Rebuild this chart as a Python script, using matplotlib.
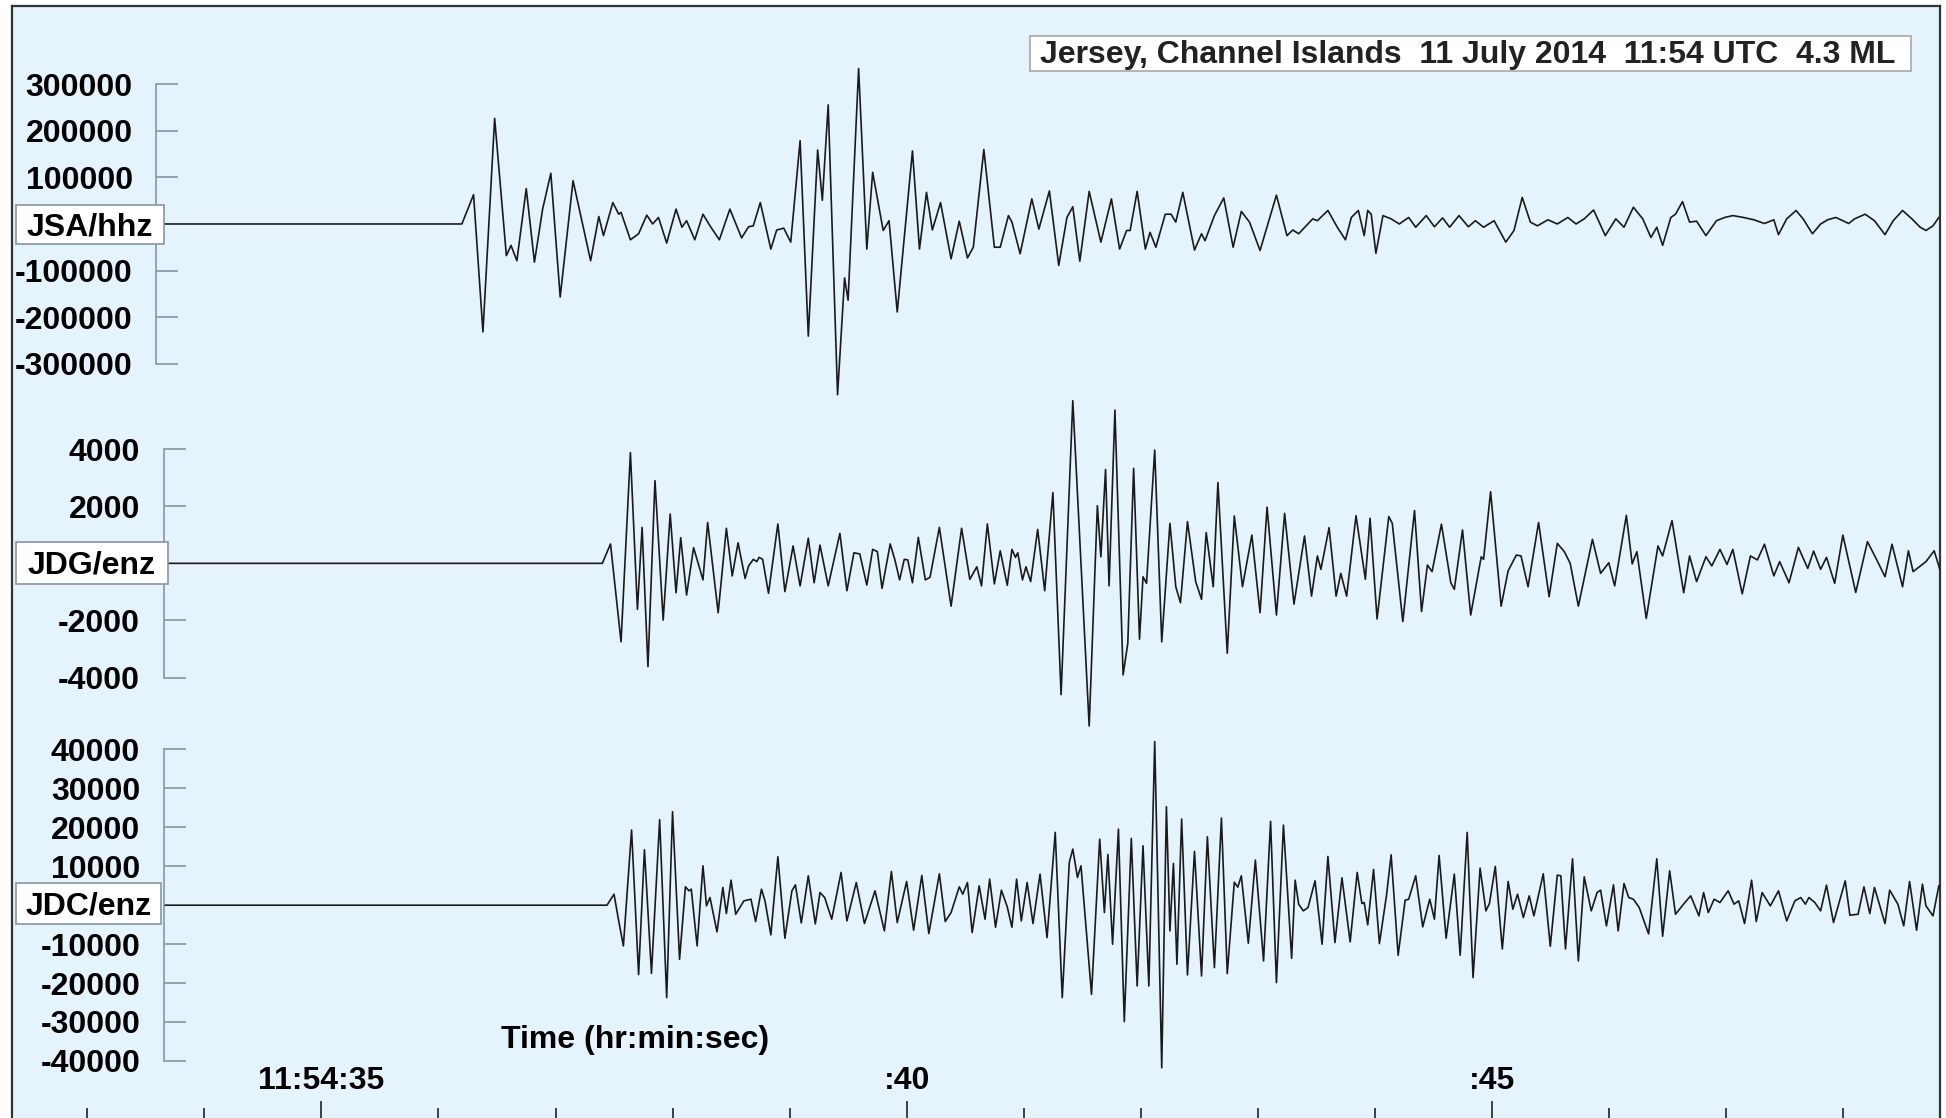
import matplotlib.pyplot as plt
from matplotlib.patches import Rectangle

plt.rcParams['font.family'] = ['Liberation Sans', 'DejaVu Sans']
plt.rcParams['font.weight'] = 'bold'

title = 'Jersey, Channel Islands  11 July 2014  11:54 UTC  4.3 ML'
stations = ['JSA/hhz', 'JDG/enz', 'JDC/enz']

# turning points: seconds past 11:54, counts
jsa_t = [33.66, 36.20, 36.30, 36.38, 36.48, 36.58, 36.62, 36.67, 36.75, 36.82,
         36.89, 36.96, 37.04, 37.15, 37.30, 37.37, 37.41, 37.49, 37.54, 37.56,
         37.64, 37.71, 37.78, 37.83, 37.88, 37.95, 38.03, 38.08, 38.12, 38.19,
         38.26, 38.32, 38.40, 38.49, 38.59, 38.65, 38.69, 38.75, 38.84, 38.89,
         38.95, 39.01, 39.09, 39.16, 39.24, 39.28, 39.33, 39.41, 39.47, 39.50,
         39.59, 39.66, 39.71, 39.80, 39.85, 39.92, 40.05, 40.11, 40.17, 40.22,
         40.29, 40.38, 40.45, 40.52, 40.57, 40.66, 40.75, 40.80, 40.87, 40.90,
         40.97, 41.07, 41.13, 41.22, 41.30, 41.37, 41.42, 41.48, 41.56, 41.66,
         41.75, 41.82, 41.88, 41.91, 41.97, 42.04, 42.08, 42.13, 42.21, 42.26,
         42.30, 42.36, 42.46, 42.52, 42.55, 42.63, 42.71, 42.79, 42.86, 42.93,
         43.02, 43.16, 43.25, 43.30, 43.35, 43.47, 43.51, 43.60, 43.68, 43.75,
         43.80, 43.86, 43.91, 43.94, 43.97, 44.01, 44.07, 44.14, 44.21, 44.29,
         44.35, 44.44, 44.51, 44.58, 44.64, 44.72, 44.80, 44.86, 44.93, 45.02,
         45.12, 45.19, 45.26, 45.33, 45.39, 45.48, 45.56, 45.65, 45.72, 45.79,
         45.87, 45.97, 46.06, 46.13, 46.21, 46.29, 46.36, 46.41, 46.46, 46.53,
         46.57, 46.63, 46.69, 46.75, 46.83, 46.92, 46.99, 47.06, 47.15, 47.24,
         47.33, 47.41, 47.45, 47.52, 47.60, 47.66, 47.74, 47.81, 47.87, 47.94,
         48.05, 48.10, 48.19, 48.27, 48.36, 48.43, 48.51, 48.59, 48.66, 48.71,
         48.77, 48.82]
jsa_v = [0, 0, 63000, -232000, 227000, -68000, -46000, -79000, 76000, -82000,
         32000, 109000, -157000, 93000, -79000, 16000, -25000, 46000, 21000, 25000,
         -34000, -21000, 19000, 0, 14000, -41000, 32000, -7000, 7000, -34000,
         21000, -4000, -34000, 32000, -30000, -6000, -4000, 46000, -54000, -13000,
         -9000, -39000, 179000, -241000, 159000, 51000, 256000, -367000, -116000, -164000,
         334000, -54000, 111000, -14000, 7000, -189000, 157000, -54000, 68000, -13000,
         46000, -75000, 6000, -73000, -50000, 160000, -50000, -50000, 18000, 4000,
         -64000, 54000, -11000, 71000, -89000, 14000, 37000, -80000, 70000, -39000,
         54000, -54000, -14000, -14000, 70000, -54000, -18000, -50000, 21000, 21000,
         4000, 68000, -56000, -21000, -36000, 18000, 56000, -50000, 27000, 4000,
         -57000, 62000, -25000, -13000, -21000, 11000, 7000, 29000, -7000, -34000,
         14000, 29000, -25000, 29000, 21000, -63000, 18000, 11000, 0, 14000,
         -7000, 18000, -6000, 13000, -7000, 18000, -6000, 7000, -7000, 7000,
         -39000, -14000, 57000, 4000, -4000, 9000, 0, 14000, 0, 11000,
         30000, -25000, 11000, -7000, 36000, 11000, -29000, -7000, -46000, 14000,
         21000, 48000, 4000, 6000, -25000, 7000, 14000, 18000, 14000, 9000,
         1000, 9000, -23000, 11000, 29000, 11000, -21000, 0, 9000, 14000,
         1000, 11000, 21000, 7000, -23000, 7000, 29000, 11000, -7000, -14000,
         -4000, 14000]

jdg_t = [33.69, 37.40, 37.47, 37.56, 37.64, 37.70, 37.74, 37.79, 37.85, 37.92,
         37.98, 38.03, 38.07, 38.12, 38.18, 38.26, 38.30, 38.39, 38.46, 38.51,
         38.56, 38.62, 38.65, 38.69, 38.72, 38.74, 38.77, 38.82, 38.90, 38.96,
         39.03, 39.09, 39.16, 39.21, 39.26, 39.33, 39.43, 39.49, 39.55, 39.60,
         39.66, 39.71, 39.75, 39.79, 39.86, 39.90, 39.94, 39.98, 40.01, 40.05,
         40.10, 40.16, 40.20, 40.28, 40.38, 40.47, 40.54, 40.60, 40.64, 40.69,
         40.75, 40.80, 40.86, 40.90, 40.93, 40.95, 40.99, 41.02, 41.06, 41.12,
         41.18, 41.25, 41.32, 41.42, 41.56, 41.63, 41.66, 41.70, 41.73, 41.78,
         41.85, 41.89, 41.94, 41.99, 42.02, 42.05, 42.12, 42.18, 42.25, 42.30,
         42.34, 42.40, 42.47, 42.52, 42.56, 42.62, 42.66, 42.74, 42.80, 42.87,
         42.95, 43.02, 43.08, 43.16, 43.23, 43.31, 43.40, 43.46, 43.51, 43.54,
         43.61, 43.67, 43.71, 43.76, 43.84, 43.92, 43.96, 44.02, 44.12, 44.15,
         44.24, 44.34, 44.40, 44.45, 44.49, 44.57, 44.65, 44.68, 44.75, 44.82,
         44.91, 44.93, 44.99, 45.08, 45.14, 45.21, 45.25, 45.31, 45.40, 45.49,
         45.56, 45.62, 45.67, 45.74, 45.86, 45.93, 46.00, 46.05, 46.15, 46.20,
         46.24, 46.32, 46.42, 46.46, 46.54, 46.64, 46.69, 46.75, 46.83, 46.88,
         46.95, 47.01, 47.06, 47.14, 47.21, 47.27, 47.33, 47.41, 47.46, 47.54,
         47.62, 47.70, 47.75, 47.81, 47.86, 47.93, 48.00, 48.11, 48.21, 48.29,
         48.36, 48.42, 48.51, 48.56, 48.60, 48.71, 48.78, 48.83]
jdg_v = [0, 0, 680, -2750, 3880, -1610, 1260, -3620, 2900, -1990,
         1730, -1030, 900, -1110, 550, -580, 1430, -1730, 1230, -440,
         720, -530, -90, 140, 60, 210, 140, -1050, 1380, -990,
         610, -790, 880, -680, 640, -790, 1050, -960, 370, 330,
         -760, 490, 410, -880, 680, 120, -580, 140, 120, -680,
         910, -580, -490, 1260, -1500, 1230, -560, -120, -790, 1380,
         -720, 440, -770, 490, 210, 370, -580, -120, -640, 1190,
         -960, 2480, -4600, 5700, -5700, 2020, 230, 3290, -790, 5370,
         -3910, -2800, 3330, -2660, -470, -700, 3970, -2750, 1400, -820,
         -1380, 1460, -640, -1260, 1080, -820, 2830, -3150, 1660, -820,
         990, -1730, 1970, -1810, 1750, -1430, 960, -1150, 260, -210,
         1250, -1150, -350, -1150, 1670, -560, 1580, -1950, 1640, 1400,
         -2040, 1850, -1690, -60, -290, 1370, -680, -910, 1170, -1810,
         230, 140, 2510, -1500, -260, 290, 260, -820, 1430, -1170,
         700, 410, 0, -1500, 840, -350, 20, -790, 1680, -20,
         410, -1930, 610, 260, 1500, -1030, 260, -640, 230, -90,
         490, -40, 490, -1070, 260, 120, 670, -440, 60, -680,
         560, -180, 430, -210, 210, -700, 990, -1020, 760, 120,
         -470, 670, -820, 440, -290, 60, 440, -230]

jdc_t = [33.66, 37.44, 37.50, 37.54, 37.58, 37.65, 37.71, 37.76, 37.82, 37.89,
         37.95, 38.00, 38.06, 38.11, 38.14, 38.16, 38.21, 38.26, 38.29, 38.32,
         38.38, 38.43, 38.46, 38.50, 38.54, 38.61, 38.67, 38.71, 38.76, 38.79,
         38.84, 38.90, 38.96, 39.02, 39.05, 39.10, 39.16, 39.22, 39.26, 39.30,
         39.36, 39.44, 39.49, 39.57, 39.64, 39.73, 39.81, 39.87, 39.92, 40.00,
         40.06, 40.13, 40.19, 40.28, 40.33, 40.38, 40.45, 40.48, 40.52, 40.56,
         40.62, 40.67, 40.71, 40.76, 40.81, 40.86, 40.90, 40.94, 40.98, 41.03,
         41.08, 41.14, 41.20, 41.27, 41.33, 41.39, 41.42, 41.46, 41.49, 41.58,
         41.65, 41.69, 41.72, 41.76, 41.81, 41.86, 41.92, 41.97, 42.02, 42.07,
         42.12, 42.18, 42.22, 42.25, 42.28, 42.31, 42.35, 42.40, 42.46, 42.52,
         42.57, 42.63, 42.69, 42.74, 42.80, 42.83, 42.86, 42.92, 42.98, 43.05,
         43.11, 43.16, 43.22, 43.29, 43.32, 43.35, 43.39, 43.43, 43.49, 43.55,
         43.60, 43.66, 43.72, 43.79, 43.85, 43.89, 43.91, 43.94, 43.99, 44.04,
         44.10, 44.14, 44.20, 44.26, 44.29, 44.35, 44.41, 44.47, 44.51, 44.55,
         44.61, 44.68, 44.73, 44.79, 44.84, 44.90, 44.95, 44.98, 45.03, 45.09,
         45.14, 45.18, 45.22, 45.27, 45.32, 45.36, 45.44, 45.50, 45.56, 45.59,
         45.63, 45.69, 45.74, 45.79, 45.85, 45.90, 45.93, 45.98, 46.04, 46.08,
         46.13, 46.17, 46.21, 46.26, 46.34, 46.41, 46.46, 46.52, 46.57, 46.65,
         46.70, 46.77, 46.81, 46.85, 46.90, 46.95, 47.02, 47.07, 47.11, 47.16,
         47.22, 47.26, 47.31, 47.38, 47.45, 47.52, 47.59, 47.64, 47.68, 47.71,
         47.76, 47.81, 47.86, 47.92, 48.02, 48.06, 48.13, 48.18, 48.23, 48.27,
         48.36, 48.40, 48.47, 48.52, 48.57, 48.63, 48.68, 48.71, 48.77, 48.82]
jdc_v = [0, 0, 2830, -4030, -10460, 19300, -17840, 14240, -17500, 21960,
         -23760, 24010, -13890, 4720, 3690, 4120, -10460, 10120, -170, 1970,
         -6860, 4550, -2140, 6430, -2320, 1120, 1540, -4200, 4120, 1120,
         -7630, 12440, -8490, 3690, 5230, -4550, 7550, -4800, 3260, 1970,
         -3600, 8410, -4030, 5830, -4720, 3690, -6600, 8660, -4460, 6090,
         -6430, 7630, -7290, 8060, -4200, -1890, 4720, 2830, 5830, -7030,
         4970, -3600, 6690, -5660, 3860, -430, -5660, 6690, -4030, 5830,
         -4720, 7980, -8320, 18700, -23760, 10980, 14410, 7120, 10120, -22900,
         16980, -1890, 13040, -10030, 19550, -29900, 17150, -20750, 15270, -20750,
         42020, -41770, 25300, -6600, 10720, -15180, 22130, -17920, 13810, -18180,
         17580, -16040, 22380, -17580, 5920, 4630, 7550, -9780, 11580, -14320,
         21530, -19900, 20580, -13640, 6430, 260, -1460, -600, 6260, -10030,
         12520, -9610, 7030, -9430, 8410, 430, 690, -5060, 9180, -9860,
         2400, 12950, -12860, 1290, 1540, 7550, -5570, 1540, -3600, 12780,
         -8490, 7980, -12860, 18700, -18610, 9520, -1460, 430, 9950, -11240,
         6090, -1030, 2830, -3170, 2400, -2740, 8060, -10550, 7720, 7550,
         -11240, 11920, -14320, 7290, -1460, 3260, 3860, -5320, 5230, -6600,
         5570, 1970, 1540, -600, -7380, 11920, -7980, 8830, -2320, 690,
         2400, -2740, 3260, -1890, 1540, 690, 3690, 260, 1120, -4720,
         6430, -4200, 3260, -170, 3690, -4030, 1120, 1970, 260, 1970,
         690, -1460, 5150, -4460, 6260, -2570, -2320, 4720, -2140, 4550,
         -4720, 3860, 260, -5320, 6090, -6430, 5400, -170, -2740, 4970]

jsa_ticks = [300000, 200000, 100000, -100000, -200000, -300000]
jdg_ticks = [4000, 2000, -2000, -4000]
jdc_ticks = [40000, 30000, 20000, 10000, -10000, -20000, -30000, -40000]

time_major = [35, 40, 45]
time_labels = ['11:54:35', ':40', ':45']
time_minor = list(range(33, 49))

# layout is measured on a 1568x901 view of the page
W, H = 1568, 901
X35, PX_S = 259, 94.3          # x of 11:54:35 and pixels per second
LEFT, RIGHT, TOP = 10, 1563, 5


def t_at(x):
    return 35 + (x - X35) / PX_S


def fx(x):
    return x / W


def fy(y):
    return 1 - y / H


bg = '#e5f3fc'
grey = '#8796a3'
ink = '#1a1a1a'

fig = plt.figure(figsize=(19.46, 11.18), dpi=100)
fig.patch.set_facecolor('white')

# outer frame + time axis
frame = fig.add_axes([fx(LEFT), 0, (RIGHT - LEFT) / W, (H - TOP) / H])
frame.set_facecolor(bg)
frame.set_xlim(t_at(LEFT), t_at(RIGHT))
frame.set_ylim(0, 1)
frame.set_yticks([])
frame.spines['bottom'].set_visible(False)
for s in ['left', 'top', 'right']:
    frame.spines[s].set_linewidth(1.6)
    frame.spines[s].set_color('#333333')
frame.set_xticks(time_major, time_labels)
frame.set_xticks(time_minor, minor=True)
frame.tick_params(axis='x', which='major', direction='in', length=12.5, width=1.3,
                  color='#333333', pad=-37.5, labelsize=23)
frame.tick_params(axis='x', which='minor', direction='in', length=7, width=1.3,
                  color='#333333')

traces = [
    # times, values, ticks, centre y, px per count, y half-range, spine x
    (jsa_t, jsa_v, jsa_ticks, 180.5, 37.5 / 100000, 380000, 126),
    (jdg_t, jdg_v, jdg_ticks, 454, 23 / 1000, 6500, 132),
    (jdc_t, jdc_v, jdc_ticks, 729.5, 3.1375 / 1000, 45000, 132),
]

for t, v, ticks, yc, k, lim, sx in traces:
    half = lim * k
    ax = fig.add_axes([fx(LEFT), fy(yc + half), (RIGHT - LEFT) / W, 2 * half / H])
    ax.patch.set_alpha(0)
    ax.set_xlim(t_at(LEFT), t_at(RIGHT))
    ax.set_ylim(-lim, lim)
    ax.plot(t, v, color=ink, lw=1.2, solid_joinstyle='round')
    for s in ['top', 'right', 'bottom']:
        ax.spines[s].set_visible(False)
    ax.spines['left'].set_position(('data', t_at(sx)))
    ax.spines['left'].set_bounds(min(ticks), max(ticks))
    ax.spines['left'].set_color(grey)
    ax.spines['left'].set_linewidth(1.2)
    ax.set_xticks([])
    ax.set_yticks(ticks, [str(n) for n in ticks])
    ax.tick_params(axis='y', direction='in', length=16, width=1.2, color=grey,
                   pad=17, labelsize=23, labelcolor='black')

# station label boxes
boxes = [(13, 132, 165, 197), (13, 135, 437, 471), (13, 130, 712, 745)]
for name, (x0, x1, y0, y1) in zip(stations, boxes):
    fig.add_artist(Rectangle((fx(x0), fy(y1)), (x1 - x0) / W, (y1 - y0) / H,
                             transform=fig.transFigure, fc='white', ec=grey,
                             lw=1.2, zorder=5))
    fig.text(fx((x0 + x1) / 2), fy((y0 + y1) / 2 + 2), name, ha='center',
             va='center', fontsize=23, zorder=6)

# event title
fig.add_artist(Rectangle((fx(830), fy(57)), 710 / W, 28 / H,
                         transform=fig.transFigure, fc='white', ec='#a8a8a8',
                         lw=1.2, zorder=5))
fig.text(fx(1183), fy(44), title, ha='center', va='center', fontsize=23,
         color='#222222', zorder=6)

fig.text(fx(512), fy(838), 'Time (hr:min:sec)', ha='center', va='center',
         fontsize=23, zorder=6)

fig.savefig('out.png', dpi=100)
